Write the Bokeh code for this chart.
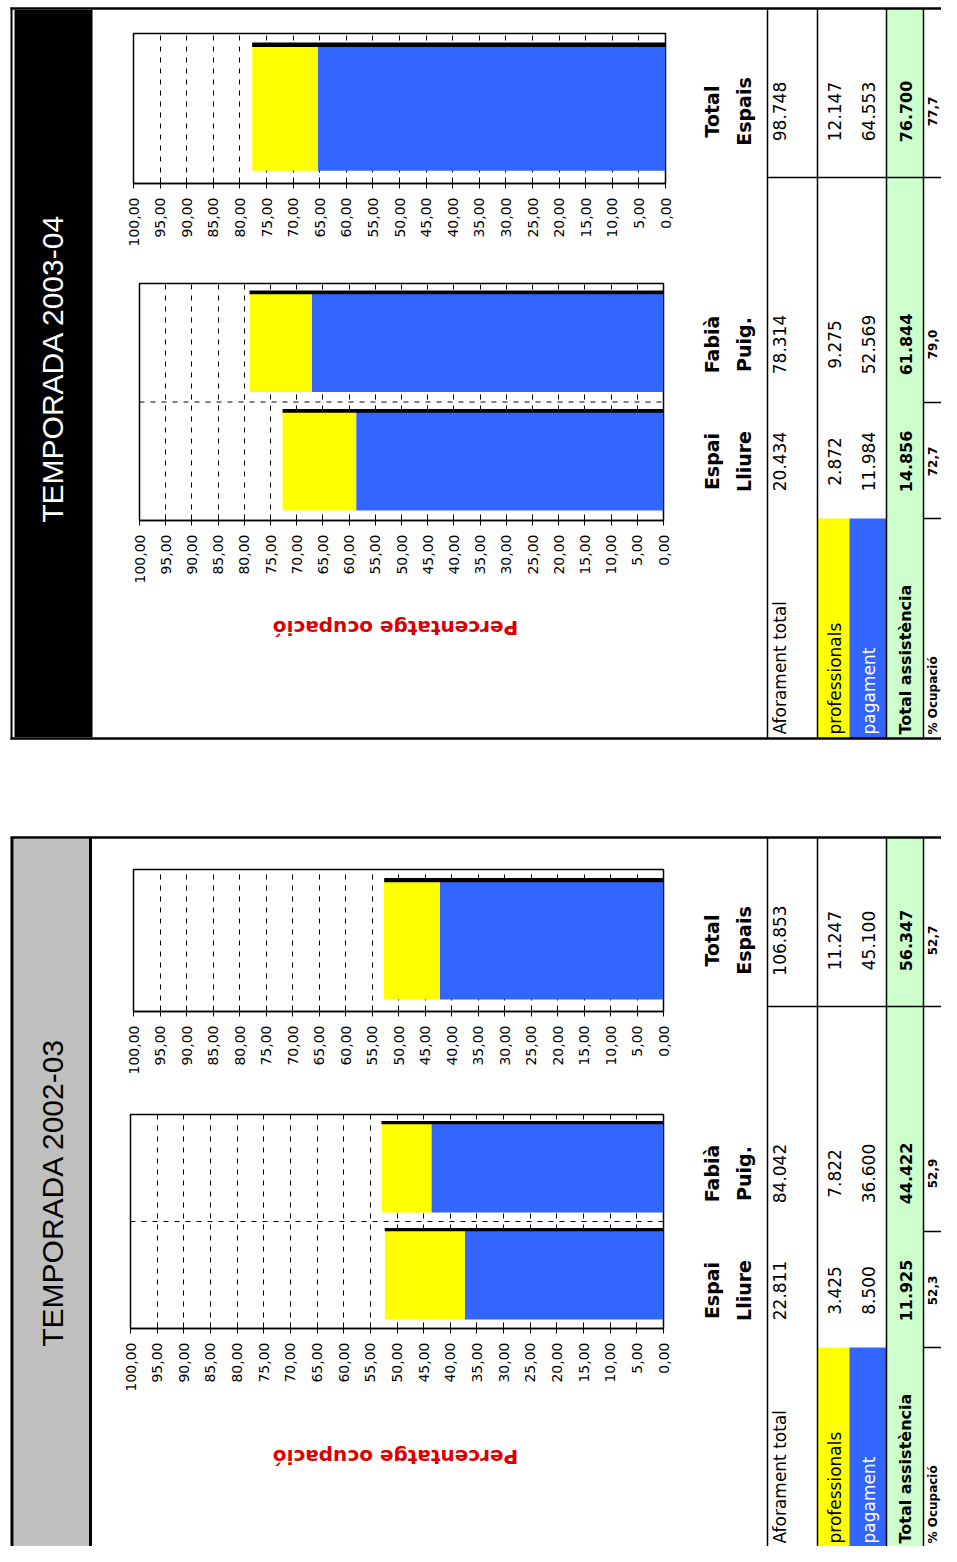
import math
from bokeh.plotting import figure
from bokeh.models import (ColumnDataSource, Range1d, FactorRange, FixedTicker,
                          CustomJSTickFormatter, Span, GridBox)
from bokeh.transform import dodge
from bokeh.core.properties import value
from bokeh.embed import file_html
from bokeh.resources import INLINE

# ---------------- data ----------------
venues = ["Espai Lliure", "Fabià Puig.", "Total Espais"]
season_titles = ["TEMPORADA 2003-04", "TEMPORADA 2002-03"]

aforament_0304 = [20434, 78314, 98748]
professionals_0304 = [2872, 9275, 12147]
pagament_0304 = [11984, 52569, 64553]
total_0304 = [14856, 61844, 76700]
ocupacio_0304 = [72.7, 79.0, 77.7]

aforament_0203 = [22811, 84042, 106853]
professionals_0203 = [3425, 7822, 11247]
pagament_0203 = [8500, 36600, 45100]
total_0203 = [11925, 44422, 56347]
ocupacio_0203 = [52.3, 52.9, 52.7]

axis_ticks = [0, 5, 10, 15, 20, 25, 30, 35, 40, 45, 50,
              55, 60, 65, 70, 75, 80, 85, 90, 95, 100]
row_labels = ["Aforament total", "professionals", "pagament",
              "Total assistència", "% Ocupació"]
axis_title = "Percentatge ocupació"

seasons = [
    dict(afor=aforament_0304, prof=professionals_0304, pag=pagament_0304,
         tot=total_0304, ocup=ocupacio_0304),
    dict(afor=aforament_0203, prof=professionals_0203, pag=pagament_0203,
         tot=total_0203, ocup=ocupacio_0203),
]

# ---------------- styling / layout ----------------
BLUE = "#3366ff"
YELLOW = "#ffff00"
GREEN = "#ccffcc"
GRAY = "#c0c0c0"
RED = "#dd0000"
FONT = "DejaVu Sans"

PAGE_W, PAGE_H = 941, 1546
OX, OY = 0, 0

# chart frames in reference pixels: (left, top, right, bottom)
frames = [
    dict(single=(133, 33, 665, 183), pair=(139, 283, 663, 520)),
    dict(single=(133, 869, 663, 1011), pair=(130, 1114, 663, 1328)),
]
BL, BR, BT, BB = 14, 14, 4, 80

panel_dy = [0, 829]
title_y = [368, 1192]
venue_y = [461, 344, 111]          # centres of the venue columns (rotated table)
tbl_lines = [767, 817, 849, 886, 923]   # table row boundaries (rotated)
col_x = [779, 834, 868, 905, 932]  # centres of the table rows (rotated)
head_x = [711, 743]


def fmt_int(v):
    return f"{v:,}".replace(",", ".")


def fmt_pct(v):
    return f"{v:.1f}".replace(".", ",")


def make_chart(idx, s, frame):
    L, T, R, B = frame
    cats = [venues[i] for i in idx]
    afor = [s["afor"][i] for i in idx]
    pag = [s["pag"][i] for i in idx]
    prof = [s["prof"][i] for i in idx]
    ocup = [s["ocup"][i] for i in idx]
    pag_pct = [p / a * 100 for p, a in zip(pag, afor)]
    tot_pct = [(p + q) / a * 100 for p, q, a in zip(pag, prof, afor)]
    src = ColumnDataSource(dict(cat=cats, pag_pct=pag_pct, tot_pct=tot_pct, ocup=ocup))

    p = figure(x_range=Range1d(100, 0), y_range=FactorRange(factors=cats),
               frame_width=R - L, frame_height=B - T,
               min_border_left=BL, min_border_right=BR,
               min_border_top=BT, min_border_bottom=BB,
               toolbar_location=None, output_backend="svg",
               y_axis_location=None)
    p.background_fill_color = "white"
    p.border_fill_alpha = 0
    p.outline_line_color = "black"
    p.outline_line_width = 1.5

    ticker = FixedTicker(ticks=axis_ticks)
    ax = p.xaxis[0]
    ax.ticker = ticker
    ax.formatter = CustomJSTickFormatter(code="return tick.toFixed(2).replace('.', ',');")
    ax.major_label_orientation = math.pi / 2
    ax.major_label_text_font = FONT
    ax.major_label_text_font_size = "14px"
    ax.major_label_text_color = "black"
    ax.major_label_standoff = 9
    ax.major_tick_in = 6
    ax.major_tick_out = 5
    ax.major_tick_line_color = "black"
    ax.minor_tick_line_color = None
    ax.axis_line_color = "black"
    ax.axis_line_width = 1.5

    p.xgrid.ticker = ticker
    p.xgrid.grid_line_color = "black"
    p.xgrid.grid_line_dash = "5 6"
    p.xgrid.grid_line_width = 1
    p.ygrid.grid_line_color = None

    for k in range(1, len(cats)):
        p.add_layout(Span(location=k, dimension="width", line_color="black",
                          line_dash="5 6", line_width=1))

    p.hbar(y="cat", left=0, right="pag_pct", height=0.83, source=src,
           fill_color=BLUE, line_color=None)
    p.hbar(y="cat", left="pag_pct", right="tot_pct", height=0.83, source=src,
           fill_color=YELLOW, line_color=None)
    p.hbar(y=dodge("cat", 0.425, range=p.y_range), left=0, right="ocup",
           height=0.03, source=src, fill_color="black", line_color=None)
    return p


# ---------------- background sheet ----------------
bg = figure(width=PAGE_W, height=PAGE_H,
            x_range=Range1d(OX, OX + PAGE_W), y_range=Range1d(OY + PAGE_H, OY),
            toolbar_location=None, output_backend="svg", min_border=0,
            x_axis_location=None, y_axis_location=None)
bg.outline_line_color = None
bg.grid.visible = False
bg.background_fill_color = "white"

L0, L1, L2, L3, L4 = tbl_lines
for k, s in enumerate(seasons):
    dy = panel_dy[k]
    top, bot = 8 + dy, (738 + dy if k == 0 else 1600)
    label_start = min(734 + dy, PAGE_H - 3)
    # header strip
    if k == 0:
        bg.quad(left=[14], right=[92], top=[top + 1.5], bottom=[bot - 1.5],
                fill_color="black", line_color=None)
        bg.segment(x0=[11], y0=[top - 1], x1=[11], y1=[bot + 1], line_color="black", line_width=2)
    else:
        bg.quad(left=[13], right=[89], top=[top + 1.5], bottom=[bot],
                fill_color=GRAY, line_color=None)
        bg.segment(x0=[90, 11.5], y0=[top, top], x1=[90, 11.5], y1=[bot, bot],
                   line_color="black", line_width=3)
    bg.text(x=[52], y=[title_y[k]], text=[season_titles[k]], angle=math.pi / 2,
            text_align="center", text_baseline="middle",
            text_font=value("Liberation Sans"), text_font_size="30px",
            text_color="white" if k == 0 else "black")

    # table fills
    bg.quad(left=[L3], right=[L4], top=[top], bottom=[bot], fill_color=GREEN, line_color=None)
    bg.quad(left=[L1], right=[L2], top=[518 + dy], bottom=[bot], fill_color=YELLOW, line_color=None)
    bg.quad(left=[L2], right=[L3], top=[518 + dy], bottom=[bot], fill_color=BLUE, line_color=None)

    # panel border
    bg.segment(x0=[10], y0=[top], x1=[970], y1=[top], line_color="black", line_width=2.5)
    if k == 0:
        bg.segment(x0=[10], y0=[bot], x1=[970], y1=[bot], line_color="black", line_width=2.5)

    # table grid lines
    vx = [L0, L1, L3, L4]
    bg.segment(x0=vx, y0=[top] * 4, x1=vx, y1=[bot] * 4, line_color="black", line_width=1.5)
    bg.segment(x0=[L0, L4, L4], y0=[177 + dy, 402 + dy, 518 + dy],
               x1=[970, 970, 970], y1=[177 + dy, 402 + dy, 518 + dy],
               line_color="black", line_width=1.5)

    # column headers (venues)
    hx, hy, ht = [], [], []
    for j, v in enumerate(venues):
        for li, word in enumerate(v.split()):
            hx.append(head_x[li]); hy.append(venue_y[j] + dy); ht.append(word)
    bg.text(x=hx, y=hy, text=ht, angle=math.pi / 2, text_align="center",
            text_baseline="middle", text_font=value(FONT), text_font_style="bold",
            text_font_size="19px", text_color="black")

    # row labels
    for r, lab in enumerate(row_labels):
        bold = r >= 3
        size = "12px" if r == 4 else ("16px" if bold else "17px")
        bg.text(x=[col_x[r]], y=[label_start], text=[lab], angle=math.pi / 2,
                text_align="left", text_baseline="middle", text_font=value(FONT),
                text_font_style="bold" if bold else "normal",
                text_font_size=size,
                text_color="white" if r == 2 else "black")

    # values
    rows = [s["afor"], s["prof"], s["pag"], s["tot"]]
    for r, vals in enumerate(rows):
        bold = r == 3
        bg.text(x=[col_x[r]] * 3, y=[vy + dy for vy in venue_y],
                text=[fmt_int(v) for v in vals], angle=math.pi / 2,
                text_align="center", text_baseline="middle", text_font=value(FONT),
                text_font_style="bold" if bold else "normal",
                text_font_size="16px" if bold else "17px", text_color="black")
    bg.text(x=[col_x[4]] * 3, y=[vy + dy for vy in venue_y],
            text=[fmt_pct(v) for v in s["ocup"]], angle=math.pi / 2,
            text_align="center", text_baseline="middle", text_font=value(FONT),
            text_font_style="bold", text_font_size="12px", text_color="black")

    # axis title (upside down)
    bg.text(x=[395], y=[627 + dy], text=[axis_title], angle=math.pi,
            text_align="center", text_baseline="middle", text_font=value(FONT),
            text_font_style="bold", text_font_size="20px", text_color=RED)

# ---------------- charts ----------------
charts = []
for k, s in enumerate(seasons):
    for key, idx in (("single", [2]), ("pair", [0, 1])):
        f = frames[k][key]
        x0 = f[0] - BL - OX
        y0 = f[1] - BT - OY
        x1 = x0 + (f[2] - f[0]) + BL + BR
        y1 = y0 + (f[3] - f[1]) + BT + BB
        charts.append((make_chart(idx, s, f), x0, y0, x1, y1))

# grid tracks: every chart occupies its own exact cell block, never sharing
# the outer edges of the background sheet (avoids frame alignment)
xs = sorted(set([0, PAGE_W] + [c[1] for c in charts] + [c[3] for c in charts]))
ys = sorted(set([0, PAGE_H] + [c[2] for c in charts] + [c[4] for c in charts]))
col_sizes = [b - a for a, b in zip(xs[:-1], xs[1:])]
row_sizes = [b - a for a, b in zip(ys[:-1], ys[1:])]

children = [(bg, 0, 0, len(row_sizes), len(col_sizes))]
for p, x0, y0, x1, y1 in charts:
    c0, c1 = xs.index(x0), xs.index(x1)
    r0, r1 = ys.index(y0), ys.index(y1)
    children.append((p, r0, c0, r1 - r0, c1 - c0))

layout = GridBox(children=children,
                 rows=[f"{v}px" for v in row_sizes],
                 cols=[f"{v}px" for v in col_sizes],
                 width=PAGE_W, height=PAGE_H)

open("out.html", "w").write(file_html(layout, INLINE))
